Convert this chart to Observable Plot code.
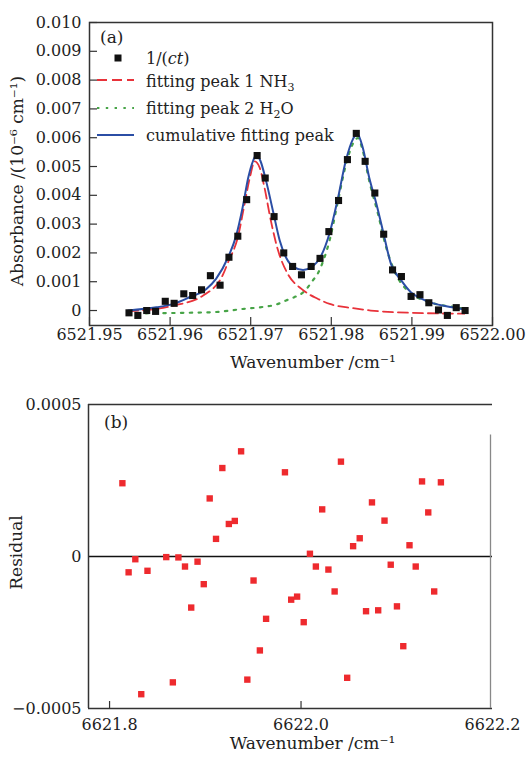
<!DOCTYPE html>
<html>
<head>
<meta charset="utf-8">
<script src="https://cdn.jsdelivr.net/npm/d3@7"></script>
<script src="https://cdn.jsdelivr.net/npm/@observablehq/plot@0.6"></script>
<style>
  html, body { margin: 0; padding: 0; background: #fff; }
  #wrap { position: relative; width: 529px; height: 758px; font-family: "DejaVu Serif", serif; }
  .panel { position: relative; width: 529px; }
  .panel svg { display: block; }
  .overlay { position: absolute; left: 0; top: 0; pointer-events: none; }
</style>
</head>
<body>
<div id="wrap">
  <div class="panel" id="pa"></div>
  <div class="panel" id="pb"></div>
</div>
<script>
// ---------- Panel (a): measured absorbance 1/(ct) ----------
const absWavenumber = [6521.9549, 6521.9560, 6521.9571, 6521.9582, 6521.9594, 6521.9605, 6521.9617, 6521.9628,
  6521.9639, 6521.9650, 6521.9662, 6521.9673, 6521.9684, 6521.9695, 6521.9708, 6521.9718, 6521.9729, 6521.9741,
  6521.9752, 6521.9763, 6521.9775, 6521.9786, 6521.9797, 6521.9809, 6521.9820, 6521.9831, 6521.9842, 6521.9854,
  6521.9865, 6521.9876, 6521.9887, 6521.9899, 6521.9910, 6521.9921, 6521.9933, 6521.9944, 6521.9955, 6521.9966];
const absValue = [-0.00008, -0.00017, 0.00000, -0.00003, 0.00032, 0.00025, 0.00058, 0.00052,
  0.00072, 0.00121, 0.00088, 0.00185, 0.00258, 0.00385, 0.00538, 0.00460, 0.00326, 0.00200,
  0.00153, 0.00124, 0.00153, 0.00181, 0.00274, 0.00382, 0.00524, 0.00615, 0.00518, 0.00408,
  0.00265, 0.00141, 0.00118, 0.00049, 0.00055, 0.00027, 0.00002, -0.00017, 0.00010, 0.00000];

// fitting peak 1 (NH3)
const nh3Wavenumber = [6521.9548, 6521.9604, 6521.9641, 6521.9666, 6521.9672, 6521.9684, 6521.9692, 6521.9699,
  6521.9705, 6521.9711, 6521.9717, 6521.9725, 6521.9734, 6521.9746, 6521.9763, 6521.9783, 6521.9798, 6521.9827,
  6521.9849, 6521.9901, 6521.9965];
const nh3Value = [-0.00003, 0.00017, 0.00052, 0.00127, 0.00168, 0.00254, 0.00364, 0.00462,
  0.00518, 0.00497, 0.00428, 0.00312, 0.00208, 0.00127, 0.00075, 0.00041, 0.00023, 0.00008,
  0.00000, -0.00008, -0.00011];

// fitting peak 2 (H2O)
const h2oWavenumber = [6521.9548, 6521.9651, 6521.9692, 6521.9711, 6521.9734, 6521.9744, 6521.9754, 6521.9765,
  6521.9771, 6521.9777, 6521.9783, 6521.9789, 6521.9798, 6521.9808, 6521.9818, 6521.9829, 6521.9833, 6521.9839,
  6521.9847, 6521.9858, 6521.9868, 6521.9880, 6521.9895, 6521.9922, 6521.9955, 6521.9965];
const h2oValue = [-0.00010, -0.00006, 0.00006, 0.00011, 0.00023, 0.00035, 0.00046, 0.00063,
  0.00081, 0.00104, 0.00127, 0.00165, 0.00245, 0.00376, 0.00505, 0.00590, 0.00599, 0.00555,
  0.00451, 0.00335, 0.00220, 0.00127, 0.00068, 0.00029, 0.00011, 0.00006];

// cumulative fitting peak
const cumWavenumber = [6521.9548, 6521.9583, 6521.9604, 6521.9624, 6521.9645, 6521.9657, 6521.9672, 6521.9682,
  6521.9690, 6521.9697, 6521.9703, 6521.9707, 6521.9712, 6521.9719, 6521.9728, 6521.9736, 6521.9744, 6521.9754,
  6521.9765, 6521.9775, 6521.9787, 6521.9798, 6521.9808, 6521.9818, 6521.9827, 6521.9832, 6521.9839, 6521.9847,
  6521.9856, 6521.9864, 6521.9874, 6521.9887, 6521.9899, 6521.9911, 6521.9922, 6521.9955, 6521.9968];
const cumValue = [0.00000, 0.00011, 0.00023, 0.00046, 0.00075, 0.00110, 0.00185, 0.00260,
  0.00358, 0.00462, 0.00520, 0.00541, 0.00520, 0.00451, 0.00341, 0.00243, 0.00183, 0.00150,
  0.00141, 0.00150, 0.00188, 0.00270, 0.00387, 0.00520, 0.00596, 0.00615, 0.00566, 0.00462,
  0.00370, 0.00277, 0.00162, 0.00104, 0.00063, 0.00042, 0.00029, 0.00009, 0.00003];

const absTicksX = [6521.95, 6521.96, 6521.97, 6521.98, 6521.99, 6522.00];
const absTicksY = [0, 0.001, 0.002, 0.003, 0.004, 0.005, 0.006, 0.007, 0.008, 0.009, 0.010];

// ---------- Panel (b): residual ----------
const resWavenumber = [6621.8134, 6621.8199, 6621.8269, 6621.8331, 6621.8396, 6621.8592, 6621.8661, 6621.8719,
  6621.8788, 6621.8853, 6621.8919, 6621.8984, 6621.9046, 6621.9112, 6621.9178, 6621.9246, 6621.9308, 6621.9374,
  6621.9439, 6621.9504, 6621.9570, 6621.9635, 6621.9832, 6621.9897, 6621.9959, 6622.0028, 6622.0093, 6622.0155,
  6622.0221, 6622.0286, 6622.0351, 6622.0417, 6622.0482, 6622.0544, 6622.0613, 6622.0679, 6622.0741, 6622.0806,
  6622.0872, 6622.0937, 6622.1002, 6622.1068, 6622.1133, 6622.1198, 6622.1264, 6622.1329, 6622.1391, 6622.1461];
const resValue = [0.000241, -0.000052, -0.000009, -0.000453, -0.000047, -0.000002, -0.000414, -0.000003,
  -0.000033, -0.000168, -0.000017, -0.000091, 0.000191, 0.000058, 0.000291, 0.000107, 0.000117, 0.000346,
  -0.000405, -0.000079, -0.000309, -0.000205, 0.000277, -0.000142, -0.000132, -0.000216, 0.000009, -0.000033,
  0.000155, -0.000043, -0.000115, 0.000312, -0.000399, 0.000034, 0.000060, -0.000180, 0.000178, -0.000177,
  0.000118, -0.000027, -0.000164, -0.000295, 0.000037, -0.000033, 0.000247, 0.000145, -0.000115, 0.000244];

const resTicksX = [6621.8, 6622.0, 6622.2];
const resTicksY = [-0.0005, 0, 0.0005];

// ---------- build tables ----------
const absData = absWavenumber.map((x, i) => ({x, y: absValue[i]}));
const nh3Data = nh3Wavenumber.map((x, i) => ({x, y: nh3Value[i]}));
const h2oData = h2oWavenumber.map((x, i) => ({x, y: h2oValue[i]}));
const cumData = cumWavenumber.map((x, i) => ({x, y: cumValue[i]}));
const resData = resWavenumber.map((x, i) => ({x, y: resValue[i]}));

const RED = "#e8323a", GREEN = "#47a447", BLUE = "#2b4ea5", FRAME = "#333";
const FONT = '"DejaVu Serif", serif';

// ---------- Panel (a) ----------
const W = 529;
const hA = 385, mTA = 22, mBA = 60, mLA = 89, mRA = 37;
const fhA = hA - mTA - mBA, fwA = W - mLA - mRA;

const plotA = Plot.plot({
  width: W, height: hA,
  marginTop: mTA, marginBottom: mBA, marginLeft: mLA, marginRight: mRA,
  style: {fontFamily: FONT, fontSize: "16px", color: "#222", background: "#fff", overflow: "visible"},
  x: {domain: [6521.95, 6522.00]},
  y: {domain: [-0.00052, 0.010]},
  marks: [
    Plot.axisX({ticks: absTicksX, tickSize: 0, tickPadding: 3, fontSize: 16, tickFormat: d => d.toFixed(2), label: null}),
    Plot.axisY({ticks: absTicksY, tickSize: 0, tickPadding: 8, fontSize: 16, tickFormat: d => d === 0 ? "0" : d.toFixed(3), label: null}),
    Plot.tickX(absTicksX, {x: d => d, insetTop: fhA - 8, stroke: FRAME, strokeWidth: 1.2}),
    Plot.tickY(absTicksY, {y: d => d, insetRight: fwA - 8, stroke: FRAME, strokeWidth: 1.2}),
    Plot.line(h2oData, {x: "x", y: "y", curve: "monotone-x", stroke: GREEN, strokeWidth: 2.2, strokeDasharray: "2.4,6.4"}),
    Plot.line(nh3Data, {x: "x", y: "y", curve: "monotone-x", stroke: RED, strokeWidth: 1.8, strokeDasharray: "10,5"}),
    Plot.line(cumData, {x: "x", y: "y", curve: "monotone-x", stroke: BLUE, strokeWidth: 2}),
    Plot.dot(absData, {x: "x", y: "y", symbol: "square", r: 4, fill: "#111", stroke: "none"}),
    Plot.frame({stroke: FRAME, strokeWidth: 1.5}),
    Plot.text(["Wavenumber /cm\u207B\u00B9"], {text: d => d, frameAnchor: "bottom", textAnchor: "middle", dx: 22, dy: 42, fontSize: 17, fill: "#222"}),
    Plot.text(["Absorbance /(10\u207B\u2076 cm\u207B\u00B9)"], {text: d => d, frameAnchor: "left", textAnchor: "middle", rotate: -90, dx: -72, dy: 7, fontSize: 17, fill: "#222"})
  ]
});
document.getElementById("pa").appendChild(plotA);

// legend overlay for panel (a)
const ovA = d3.select("#pa").append("svg").attr("class", "overlay")
  .attr("width", W).attr("height", hA)
  .style("font-family", FONT).style("font-size", "16px").style("fill", "#222");
ovA.append("text").attr("x", 100).attr("y", 43).style("font-size", "17px").text("(a)");
ovA.append("rect").attr("x", 114.5).attr("y", 54.5).attr("width", 7).attr("height", 7).attr("fill", "#111");
const t1 = ovA.append("text").attr("x", 146).attr("y", 64);
t1.append("tspan").text("1/(");
t1.append("tspan").style("font-style", "italic").text("ct");
t1.append("tspan").text(")");
ovA.append("line").attr("x1", 97).attr("x2", 134).attr("y1", 80).attr("y2", 80)
  .attr("stroke", RED).attr("stroke-width", 1.8).attr("stroke-dasharray", "10,5");
const t2 = ovA.append("text").attr("x", 146).attr("y", 87);
t2.append("tspan").text("fitting peak 1 NH");
t2.append("tspan").attr("dy", 4).style("font-size", "11px").text("3");
ovA.append("line").attr("x1", 97).attr("x2", 134).attr("y1", 108).attr("y2", 108)
  .attr("stroke", GREEN).attr("stroke-width", 2.2).attr("stroke-dasharray", "2.4,6.4");
const t3 = ovA.append("text").attr("x", 146).attr("y", 114);
t3.append("tspan").text("fitting peak 2 H");
t3.append("tspan").attr("dy", 4).style("font-size", "11px").text("2");
t3.append("tspan").attr("dy", -4).text("O");
ovA.append("line").attr("x1", 97).attr("x2", 134).attr("y1", 135).attr("y2", 135)
  .attr("stroke", BLUE).attr("stroke-width", 2);
ovA.append("text").attr("x", 146).attr("y", 141).text("cumulative fitting peak");

// ---------- Panel (b) ----------
const hB = 373, mTB = 19, mBB = 50, mLB = 88, mRB = 37;
const fhB = hB - mTB - mBB;
const xDomB = [6621.778, 6622.2];
const yDomB = [-0.0005, 0.0005];

const plotB = Plot.plot({
  width: W, height: hB,
  marginTop: mTB, marginBottom: mBB, marginLeft: mLB, marginRight: mRB,
  style: {fontFamily: FONT, fontSize: "16px", color: "#222", background: "#fff", overflow: "visible"},
  x: {domain: xDomB},
  y: {domain: yDomB},
  marks: [
    Plot.axisX({ticks: resTicksX, tickSize: 0, tickPadding: 10, fontSize: 16, tickFormat: d => d.toFixed(1), label: null}),
    Plot.axisY({ticks: resTicksY, tickSize: 0, tickPadding: 7, fontSize: 16,
      tickFormat: d => d === 0 ? "0" : (d < 0 ? "\u2212" : "") + Math.abs(d).toFixed(4), label: null}),
    Plot.tickX(resTicksX.slice(0, 2), {x: d => d, insetTop: fhB - 7, stroke: FRAME, strokeWidth: 1.2}),
    Plot.ruleY([0], {stroke: "#111", strokeWidth: 1.3}),
    Plot.dot(resData, {x: "x", y: "y", symbol: "square", r: 3.6, fill: "#ee2a2e", stroke: "none"}),
    // frame: top, left, bottom full; right side partial as in the original
    Plot.ruleY([yDomB[1]], {stroke: FRAME, strokeWidth: 1.5}),
    Plot.ruleY([yDomB[0]], {stroke: FRAME, strokeWidth: 1.5}),
    Plot.ruleX([xDomB[0]], {stroke: FRAME, strokeWidth: 1.5}),
    Plot.ruleX([xDomB[1]], {y1: 0.0004, y2: yDomB[0], stroke: "#888", strokeWidth: 1.3, dx: -2}),
    Plot.text(["Wavenumber /cm\u207B\u00B9"], {text: d => d, frameAnchor: "bottom", textAnchor: "middle", dx: 22, dy: 40, fontSize: 17, fill: "#222"}),
    Plot.text(["Residual"], {text: d => d, frameAnchor: "left", textAnchor: "middle", rotate: -90, dx: -72, dy: -4, fontSize: 17, fill: "#222"})
  ]
});
document.getElementById("pb").appendChild(plotB);

const ovB = d3.select("#pb").append("svg").attr("class", "overlay")
  .attr("width", W).attr("height", hB)
  .style("font-family", FONT).style("font-size", "17px").style("fill", "#222");
ovB.append("text").attr("x", 104).attr("y", 43).text("(b)");
</script>
</body>
</html>
